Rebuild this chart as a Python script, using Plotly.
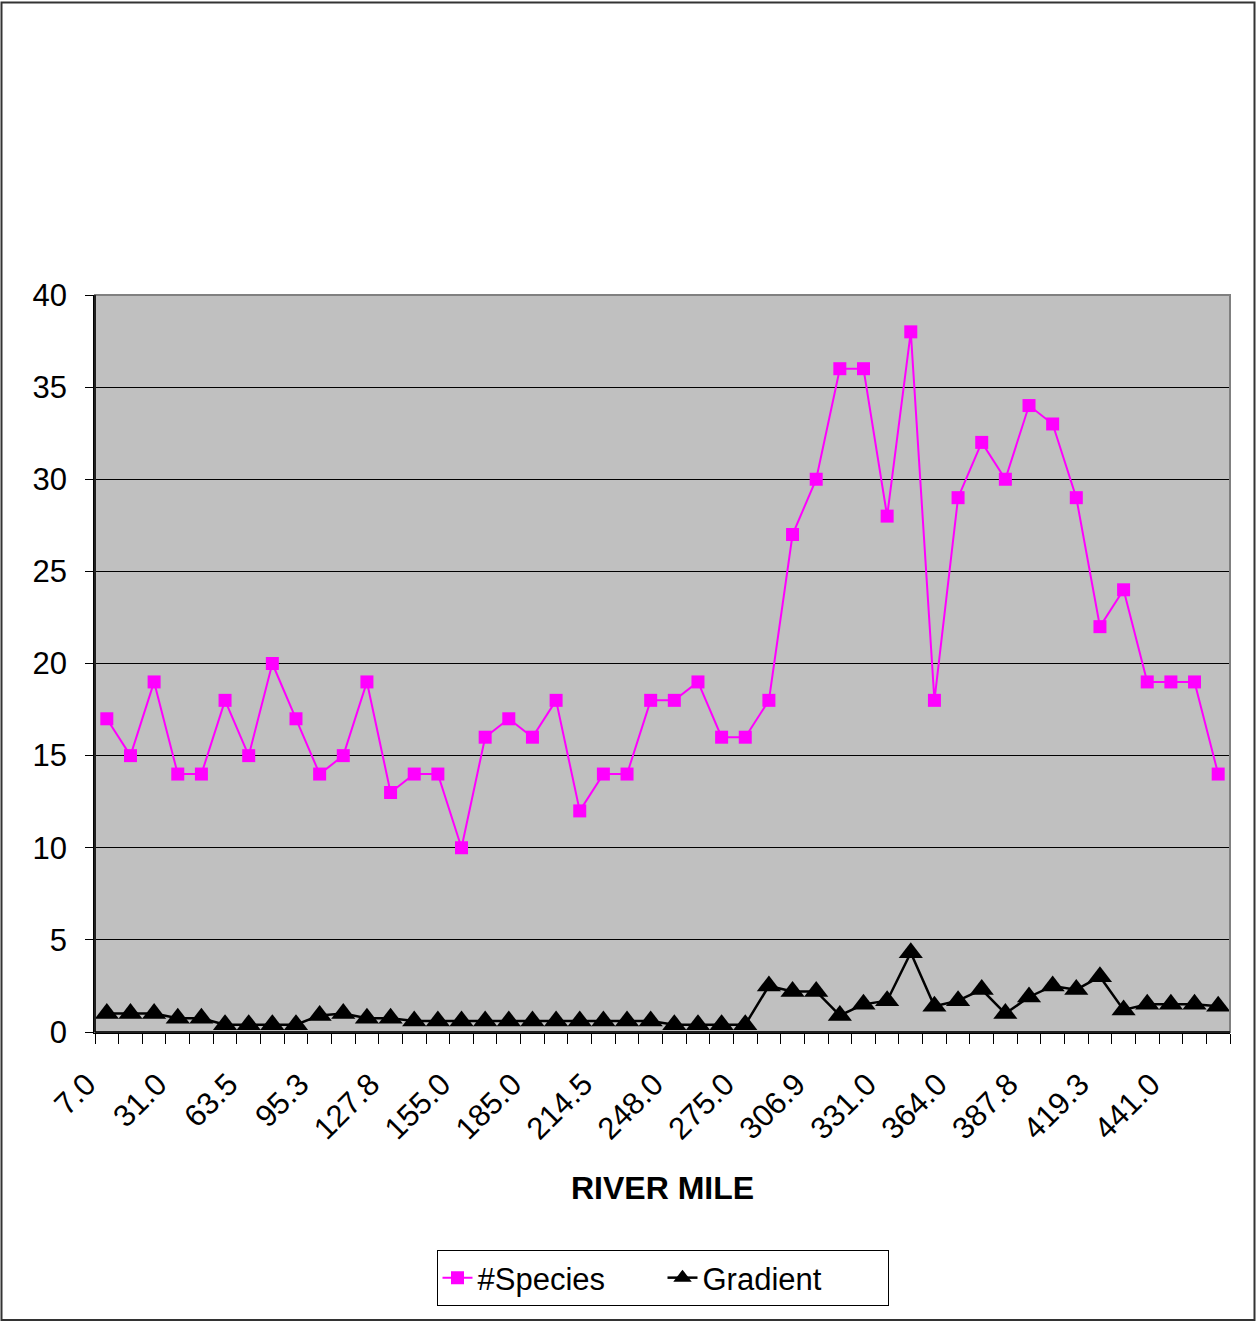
import plotly.graph_objects as go

# River mile of each sampling site (labelled ones; others estimated)
river_mile = ["7.0", "15.2", "23.5", "31.0", "42.1", "52.8", "63.5", "74.0", "84.6",
              "95.3", "106.0", "117.1", "127.8", "136.5", "146.0", "155.0", "165.0", "175.2",
              "185.0", "195.0", "204.8", "214.5", "225.6", "236.9", "248.0", "257.0", "266.1",
              "275.0", "285.5", "296.2", "306.9", "315.0", "323.0", "331.0", "342.0", "353.0",
              "364.0", "372.0", "380.0", "387.8", "398.3", "408.8", "419.3", "426.5", "433.8",
              "441.0", "448.5", "456.0"]

species = [17, 15, 19, 14, 14, 18, 15, 20, 17, 14, 15, 19, 13, 14, 14, 10,
           16, 17, 16, 18, 12, 14, 14, 18, 18, 19, 16, 16, 18, 27, 30, 36,
           36, 28, 38, 18, 29, 32, 30, 34, 33, 29, 22, 24, 19, 19, 19, 14]

gradient = [1.0, 1.0, 1.0, 0.75, 0.75, 0.4, 0.4, 0.4, 0.4, 0.9, 1.0, 0.75,
            0.75, 0.6, 0.6, 0.6, 0.6, 0.6, 0.6, 0.6, 0.6, 0.6, 0.6, 0.6,
            0.4, 0.4, 0.4, 0.4, 2.5, 2.2, 2.2, 0.9, 1.5, 1.7, 4.3, 1.4,
            1.7, 2.3, 1.0, 1.9, 2.5, 2.3, 3.0, 1.2, 1.5, 1.5, 1.5, 1.4]

y_ticks = [0, 5, 10, 15, 20, 25, 30, 35, 40]

idx = list(range(len(river_mile)))
label_idx = idx[::3]
label_text = [river_mile[i] for i in label_idx]

W, H = 1257, 1321
L, R, T, B = 95, 27, 295, 289
pw, ph = W - L - R, H - T - B

FONT = "Arial, Liberation Sans, sans-serif"

fig = go.Figure()
fig.add_trace(go.Scatter(
    x=idx, y=species, name="#Species", mode="lines+markers",
    line=dict(color="#FF00FF", width=2),
    marker=dict(symbol="square", size=13, color="#FF00FF"),
))
fig.add_trace(go.Scatter(
    x=idx, y=gradient, name="Gradient", mode="lines+markers",
    line=dict(color="#000000", width=2.5),
    marker=dict(symbol="triangle-up", size=21, color="#000000"),
))

def px_x(p):
    return (p - L) / pw

def px_y(p):
    return (T + ph - p) / ph

fig.update_layout(
    width=W, height=H,
    margin=dict(l=L, r=R, t=T, b=B, autoexpand=False),
    paper_bgcolor="white", plot_bgcolor="#C0C0C0",
    font=dict(family=FONT, size=31, color="black"),
    showlegend=True,
    legend=dict(orientation="h", x=0.5, xanchor="center", y=px_y(1250), yanchor="top",
                bordercolor="black", borderwidth=1, bgcolor="white",
                font=dict(size=31), entrywidth=180, tracegroupgap=0),
    xaxis=dict(range=[-0.5, len(idx) - 0.5], tickmode="array", tickvals=label_idx,
               ticktext=label_text, tickangle=-45, ticks="", showgrid=False, zeroline=False,
               showline=True, linecolor="black", linewidth=1.5, mirror=False,
               tickfont=dict(size=31), ticklabelstandoff=20, ticklabelshift=-20,
               minor=dict(tickmode="array", tickvals=[i - 0.5 for i in range(len(idx) + 1)],
                          ticks="outside", ticklen=10, tickcolor="black", tickwidth=1, showgrid=False)),
    yaxis=dict(range=[0, 40], tickmode="array", tickvals=y_ticks, ticks="outside", ticklen=8,
               tickcolor="black", showgrid=True, gridcolor="black", gridwidth=1,
               zeroline=False, showline=True, linecolor="black", linewidth=1.5,
               tickfont=dict(size=31), ticklabelstandoff=12),
    shapes=[
        dict(type="rect", xref="paper", yref="paper", x0=0, x1=1, y0=0, y1=1,
             line=dict(color="#808080", width=2), layer="above"),
        dict(type="line", xref="paper", yref="paper", x0=0, x1=0, y0=0, y1=1,
             line=dict(color="black", width=1.5), layer="above"),
        dict(type="line", xref="paper", yref="paper", x0=0, x1=1, y0=0, y1=0,
             line=dict(color="black", width=1.5), layer="above"),
        dict(type="rect", xref="paper", yref="paper",
             x0=px_x(1.5), x1=px_x(1254.5), y0=px_y(1320), y1=px_y(2.5),
             line=dict(color="#333333", width=2), layer="above"),
    ],
    annotations=[dict(text="<b>RIVER MILE</b>", xref="paper", yref="paper", x=0.5, y=px_y(1188),
                      xanchor="center", yanchor="middle", showarrow=False,
                      font=dict(size=32, family=FONT))],
)

fig.write_html("out.html", config={"displayModeBar": False},
               post_script="document.body.style.margin='0';document.body.style.padding='0';")
